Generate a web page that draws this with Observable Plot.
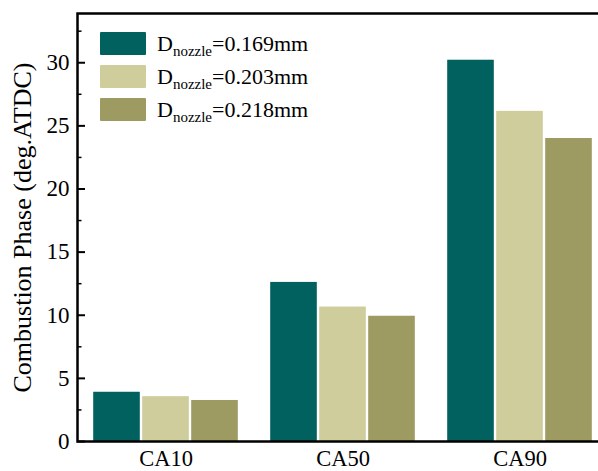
<!DOCTYPE html>
<html><head><meta charset="utf-8">
<script src="https://cdn.jsdelivr.net/npm/d3@7"></script>
<script src="https://cdn.jsdelivr.net/npm/@observablehq/plot@0.6"></script>
<style>
html,body{margin:0;padding:0;background:#fff;overflow:hidden;width:598px;height:471px}
#wrap{position:relative;width:598px;height:471px;overflow:hidden}
#wrap svg{position:absolute;left:0;top:0;max-width:none}
.legend{position:absolute;left:100px;top:27px;font-family:"Liberation Serif",serif;font-size:22px;color:#000}
.row{display:flex;align-items:center;height:33px}
.sw{width:46px;height:23px;margin-right:11px;border-radius:1px}
.lab sub{font-size:15px;vertical-align:-5px;line-height:0}
</style></head><body><div id="wrap"></div>
<script>
const categories = ["CA10", "CA50", "CA90"];
const diameters = ["0.169", "0.203", "0.218"];
const colors = ["#00615f", "#cecd9b", "#9d9b61"];
const vals169 = [3.9, 12.6, 30.2];
const vals203 = [3.55, 10.65, 26.15];
const vals218 = [3.25, 9.92, 24.0];
const majorTicks = [0, 5, 10, 15, 20, 25, 30];
const minorTicks = [2.5, 7.5, 12.5, 17.5, 22.5, 27.5, 32.5];
const yTitle = "Combustion Phase (deg.ATDC)";

const seriesVals = [vals169, vals203, vals218];
const data = [];
categories.forEach((c, j) => diameters.forEach((d, i) => data.push({category: c, series: d, value: seriesVals[i][j]})));

const font = "'Liberation Serif', 'Times New Roman', serif";
const chart = Plot.plot({
  width: 608, height: 471,
  marginLeft: 77, marginRight: 0, marginTop: 13, marginBottom: 30,
  style: {fontFamily: font, background: "white", color: "black", overflow: "visible", maxWidth: "none"},
  fx: {domain: categories, padding: 0, label: null},
  x: {domain: diameters, paddingInner: 0, paddingOuter: 0.306, axis: null},
  y: {domain: [0, 33.9]},
  color: {domain: diameters, range: colors},
  marks: [
    Plot.barY(data, {fx: "category", x: "series", y: "value", fill: "series", insetLeft: 1.2, insetRight: 1.2}),
    Plot.axisY({ticks: majorTicks, tickSize: 8, dx: 8, fill: "none", label: null, strokeWidth: 2}),
    Plot.axisY({ticks: minorTicks, tickSize: 4.5, dx: 4.5, fill: "none", label: null, strokeWidth: 1.5}),
    Plot.axisY({ticks: majorTicks, tickSize: 0, tickPadding: 8, fontSize: 23, label: null}),
    Plot.axisFx({anchor: "bottom", tickSize: 0, tickPadding: 9, fontSize: 22.5, label: null}),
    Plot.text([yTitle], {fx: ["CA10"], frameAnchor: "left", textAnchor: "middle", rotate: -90, dx: -55, dy: 0, fontSize: 26, text: d => d}),
    Plot.frame({facet: "super", strokeWidth: 2.5})
  ]
});
document.getElementById("wrap").appendChild(chart);

const legend = document.createElement("div");
legend.className = "legend";
diameters.forEach((d, i) => {
  const row = document.createElement("div");
  row.className = "row";
  row.innerHTML = `<div class="sw" style="background:${colors[i]}"></div><div class="lab">D<sub>nozzle</sub>=${d}mm</div>`;
  legend.appendChild(row);
});
document.getElementById("wrap").appendChild(legend);
</script>
</body></html>
